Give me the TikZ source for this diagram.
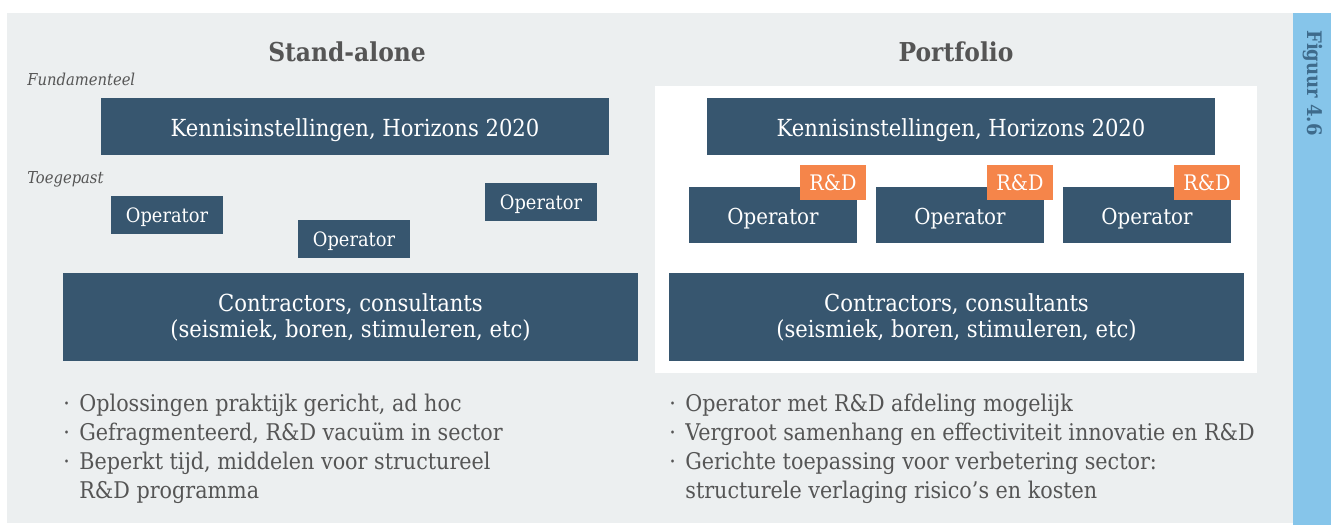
\documentclass[tikz,border=0pt]{standalone}
\usepackage{fontspec}
\setmainfont{DejaVu Serif Condensed}
\usetikzlibrary{positioning}
\definecolor{boxblue}{HTML}{37566F}
\definecolor{rdorange}{HTML}{F5854A}
\definecolor{panelgray}{HTML}{ECEFF0}
\definecolor{sidebar}{HTML}{86C5EA}
\definecolor{textgray}{HTML}{555555}
\definecolor{figtext}{HTML}{3E6B8C}
% box from its corners (pixel units)
\def\blok[#1](#2)(#3,#4)(#5,#6)#7{\node[blok,#1,minimum width={(#5-#3)*0.5pt},minimum height={(#6-#4)*0.5pt}] (#2) at ({(#3+#5)/2},{(#4+#6)/2}) {#7};}
\newcommand{\bul}{\makebox[8pt][l]{·}}

\begin{document}
\begin{tikzpicture}[x=0.5pt,y=-0.5pt,
	blok/.style={fill=boxblue,text=white,inner sep=0pt,align=center,text height=9.5pt,text depth=0pt,font=\fontsize{11.75}{13}\selectfont},
	twee/.style={text height=,text depth=},
	klein/.style={font=\fontsize{9.9}{12}\selectfont,text height=7.4pt},
	middel/.style={font=\fontsize{11}{13}\selectfont,text height=9.4pt},
	rdtag/.style={fill=rdorange,font=\fontsize{10.7}{13}\selectfont,text height=7.8pt},
	kop/.style={text=textgray,font=\fontsize{13}{15}\selectfont\bfseries},
	niveau/.style={text=textgray,anchor=base west,inner sep=0pt,font=\fontsize{8.2}{9}\selectfont\itshape},
	punten/.style={text=textgray,anchor=north west,inner sep=0pt,align=left,font=\fontsize{11.5}{14.5}\selectfont}]
		%%%%% BACKGROUND %%%%%
		\useasboundingbox (0,0) rectangle (1331,525);
		\fill[panelgray] (7,13) rectangle (1293,523);
		\fill[sidebar] (1293,13) rectangle (1331,525);
		\fill[white] (655,86) rectangle (1257,373);
		\node[rotate=-90,text=figtext,font=\fontsize{10}{12}\selectfont\bfseries] (fig) at (1313,83) {Figuur 4.6};
		
		%%%%% STAND-ALONE %%%%%
		\node[kop] (titelL) at (347,52) {Stand-alone};
		\node[niveau] (fund) at (27,85) {Fundamenteel};
		\node[niveau] (toeg) at (27,183) {Toegepast};
		\blok[](kennisL)(101,98)(609,155){Kennisinstellingen, Horizons 2020}
		\blok[klein](opL1)(111,196)(223,234){Operator}
		\blok[klein](opL2)(298,220)(410,258){Operator}
		\blok[klein](opL3)(485,183)(597,221){Operator}
		\blok[twee](contrL)(63,273)(638,361){Contractors, consultants\\(seismiek, boren, stimuleren, etc)}
		\node[punten] (puntL) at (63,394) {\bul Oplossingen praktijk gericht, ad hoc\\
			\bul Gefragmenteerd, R\&D vacuüm in sector\\
			\bul Beperkt tijd, middelen voor structureel\\
			\hspace*{8pt}R\&D programma};
		
		%%%%% PORTFOLIO %%%%%
		\node[kop] (titelR) at (956,52) {Portfolio};
		\blok[](kennisR)(707,98)(1215,155){Kennisinstellingen, Horizons 2020}
		\blok[middel](opR1)(689,187)(857,243){Operator}
		\blok[middel](opR2)(876,187)(1044,243){Operator}
		\blok[middel](opR3)(1063,187)(1231,243){Operator}
		\blok[rdtag](rd1)(800,165)(866,200){R\&D}
		\blok[rdtag](rd2)(987,165)(1053,200){R\&D}
		\blok[rdtag](rd3)(1174,165)(1240,200){R\&D}
		\blok[twee](contrR)(669,273)(1244,361){Contractors, consultants\\(seismiek, boren, stimuleren, etc)}
		\node[punten] (puntR) at (669,394) {\bul Operator met R\&D afdeling mogelijk\\
			\bul Vergroot samenhang en effectiviteit innovatie en R\&D\\
			\bul Gerichte toepassing voor verbetering sector:\\
			\hspace*{8pt}structurele verlaging risico’s en kosten};
\end{tikzpicture}
\end{document}
